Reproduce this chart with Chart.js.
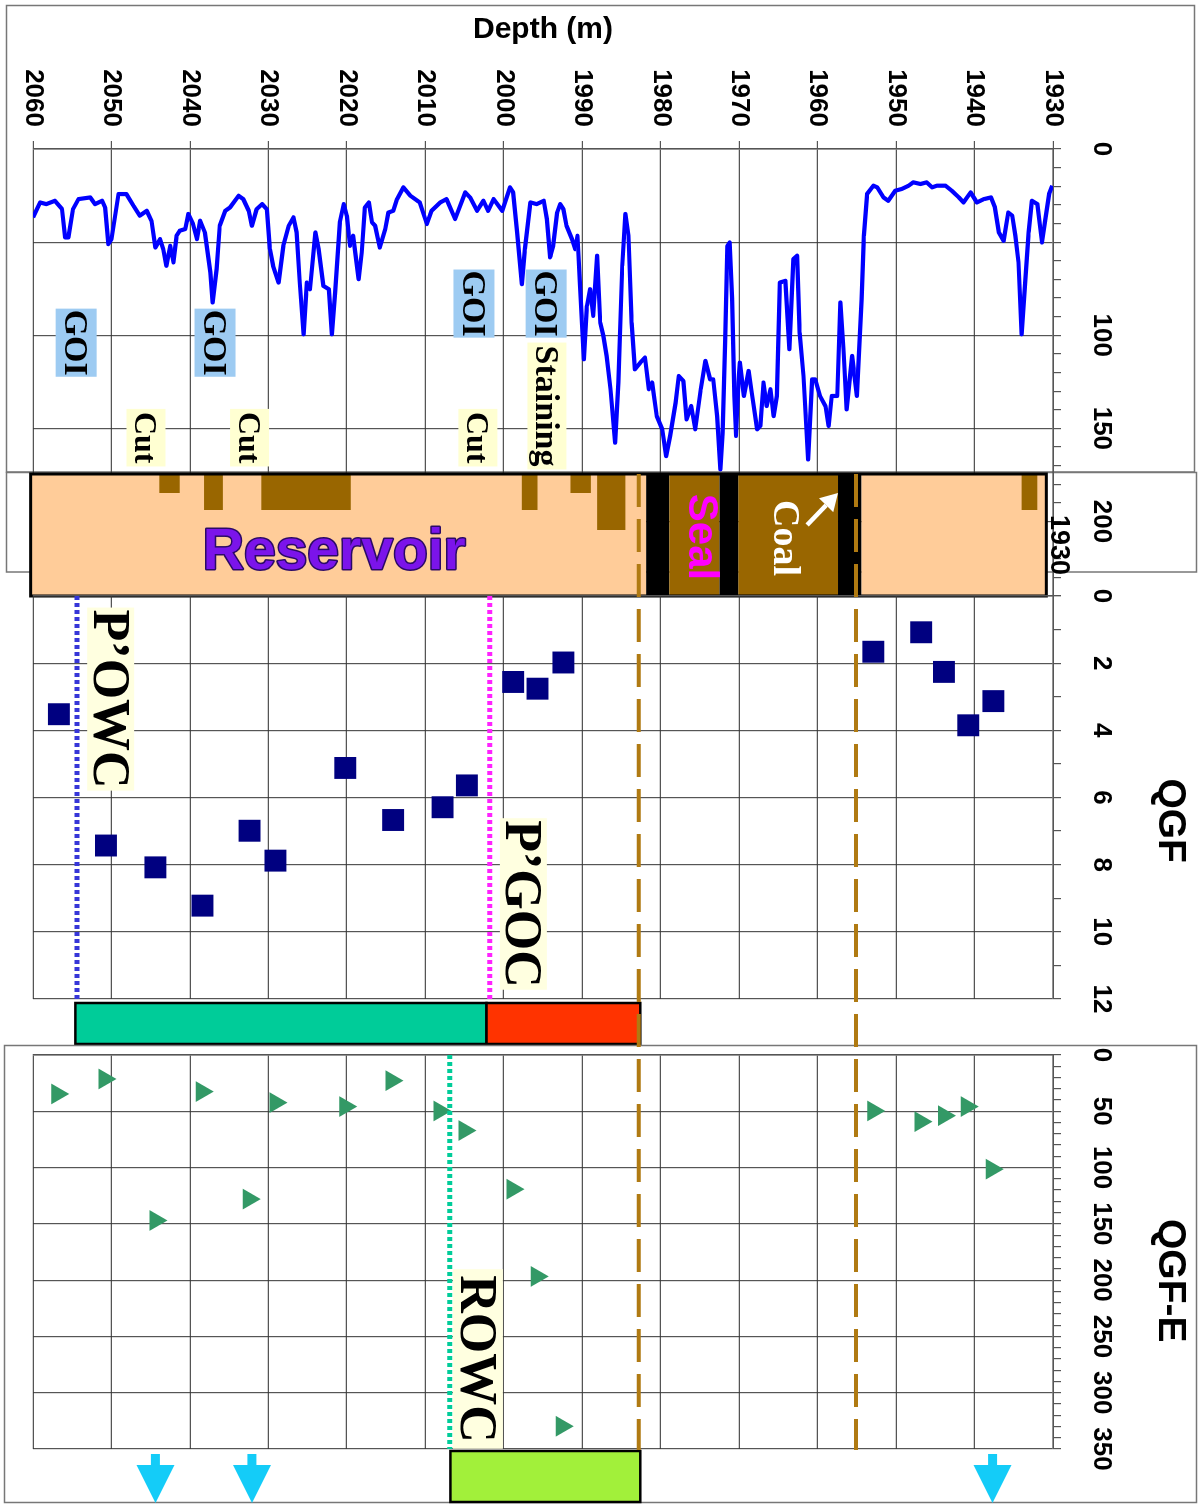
<!DOCTYPE html>
<html>
<head>
<meta charset="utf-8">
<script src="https://cdn.jsdelivr.net/npm/chart.js@4.4.1/dist/chart.umd.min.js"></script>
<style>
html,body{margin:0;padding:0;background:#fff;width:1200px;height:1505px;overflow:hidden;}
#wrap{position:absolute;left:0;top:0;width:1505px;height:1200px;transform-origin:0 0;transform:translate(1200px,0) rotate(90deg);background:#fff;}
#wrap canvas{position:absolute;left:0;top:0;}
</style>
</head>
<body>
<div id="wrap">
<canvas id="c1" width="1505" height="1200"></canvas>
<canvas id="c2" width="1505" height="1200"></canvas>
<canvas id="c3" width="1505" height="1200"></canvas>
</div>
<script>
// ================= DATA =================
const depthMin = 1930, depthMax = 2060;

const grDepth = [2060.0,2059.1,2058.3,2057.2,2056.3,2055.9,2055.5,2054.9,2054.2,2052.7,2052.1,2051.2,2050.8,2050.4,2050.0,2049.1,2048.1,2047.2,2046.4,2045.5,2044.9,2044.4,2043.8,2043.4,2043.0,2042.5,2042.1,2041.7,2041.3,2040.6,2040.2,2039.6,2039.1,2038.7,2038.1,2037.4,2037.1,2036.6,2036.2,2035.5,2034.9,2033.8,2033.2,2032.5,2032.1,2031.5,2030.8,2030.2,2029.8,2029.4,2028.7,2028.1,2027.4,2026.8,2026.4,2026.0,2025.5,2025.1,2024.7,2024.0,2023.6,2023.0,2022.3,2021.9,2021.5,2020.9,2020.4,2020.0,2019.6,2019.2,2018.5,2018.1,2017.7,2017.2,2016.8,2016.4,2015.8,2015.1,2014.7,2014.1,2013.6,2012.8,2011.9,2010.7,2009.8,2009.2,2008.1,2007.3,2006.2,2004.9,2004.3,2003.4,2002.6,2002.0,2001.3,2000.2,1999.2,1998.8,1998.3,1997.7,1997.3,1996.6,1995.8,1994.9,1994.5,1994.1,1993.7,1993.2,1992.8,1992.4,1992.0,1991.3,1990.9,1990.6,1990.3,1989.8,1989.4,1989.0,1988.6,1988.1,1987.7,1987.3,1986.9,1986.4,1985.8,1985.4,1984.9,1984.5,1984.1,1983.7,1983.3,1982.6,1982.0,1981.5,1981.1,1980.5,1979.8,1979.3,1978.8,1978.1,1977.7,1977.1,1976.7,1976.1,1975.6,1974.9,1974.3,1973.7,1973.3,1972.8,1972.4,1972.1,1971.8,1971.5,1971.2,1970.9,1970.6,1970.4,1970.1,1969.9,1969.4,1968.8,1968.4,1967.7,1967.3,1966.9,1966.5,1966.0,1965.6,1965.2,1964.8,1964.1,1963.6,1963.1,1962.6,1962.3,1961.8,1961.2,1960.7,1960.3,1959.7,1959.0,1958.6,1958.2,1957.5,1957.1,1956.7,1956.3,1955.6,1955.0,1954.4,1954.1,1953.7,1952.9,1952.4,1951.6,1951.0,1950.1,1949.3,1948.4,1947.8,1946.9,1946.1,1945.4,1944.8,1943.7,1942.9,1942.0,1941.4,1940.5,1939.7,1938.8,1937.9,1937.4,1936.9,1936.3,1935.7,1935.2,1934.8,1934.4,1934.0,1933.5,1933.1,1932.7,1932.0,1931.4,1931.0,1930.5,1930.1];
const grValue = [36.7,28.7,29.6,27.8,32.3,47.5,47.5,32.3,26.9,26.0,29.6,27.8,31.4,51.1,48.4,24.2,24.2,30.5,35.8,33.2,38.5,52.9,48.4,53.8,62.7,52.0,60.9,46.6,43.9,43.0,34.9,40.3,48.4,38.5,44.8,66.3,82.4,64.5,41.2,33.2,31.4,25.1,26.9,33.2,41.2,32.3,29.6,32.3,53.8,62.7,71.7,52.0,41.2,36.7,44.8,71.7,99.5,71.7,75.3,44.8,53.8,73.5,75.3,99.5,77.1,39.4,29.6,35.8,52.0,46.6,69.9,55.6,31.4,28.7,39.4,41.2,52.9,43.0,34.1,33.2,26.9,20.6,25.1,28.7,40.3,33.2,28.7,26.9,37.6,23.3,26.0,33.2,27.8,33.2,26.9,33.2,20.6,23.3,44.8,72.6,53.8,28.7,29.6,27.8,37.6,58.2,52.0,34.1,29.6,32.3,41.2,48.4,53.8,46.6,71.7,112.9,84.2,75.3,89.6,57.3,93.2,100.4,111.1,129.0,157.7,125.4,62.7,34.9,46.6,93.2,118.3,114.7,112.0,129.0,125.4,143.4,150.5,164.9,154.1,136.2,121.9,124.6,145.2,138.0,150.5,129.0,113.8,123.7,123.7,143.4,172.0,152.3,103.9,52.0,50.2,80.6,132.6,154.1,125.4,114.7,132.6,119.2,130.8,150.5,148.7,125.4,138.0,129.0,143.4,132.6,71.7,70.8,107.5,59.1,57.3,98.6,121.9,166.7,123.7,123.7,132.6,138.0,148.7,132.6,132.6,82.4,107.5,139.8,111.1,132.6,80.6,46.6,24.2,19.7,20.6,26.0,27.8,22.4,21.5,19.7,17.9,18.8,17.9,20.6,19.7,19.7,22.4,26.0,28.7,23.3,28.7,26.9,26.0,31.4,44.8,49.3,34.1,35.8,46.6,60.9,99.5,68.1,44.8,27.8,29.6,50.2,38.5,24.2,19.7];

const qgfDepth = [2056.7,2050.7,2044.4,2038.4,2032.4,2029.1,2020.2,2014.1,2007.8,2004.7,1998.8,1995.7,1992.4,1952.9,1946.8,1943.9,1940.8,1937.6];
const qgfValue = [3.52,7.43,8.08,9.22,6.99,7.88,5.12,6.67,6.29,5.64,2.56,2.76,1.98,1.66,1.08,2.26,3.85,3.13];

const qgfeDepth = [2056.9,2050.9,2044.4,2038.5,2032.5,2029.1,2020.2,2014.3,2008.2,2005.0,1998.9,1995.8,1992.6,1952.9,1946.9,1943.9,1941.0,1937.8];
const qgfeValue = [34.6,21.3,147,32.5,128,42.3,45.8,22.8,49.7,67.1,119.2,196.7,329.8,49.7,59.2,53.9,45.8,101.4];

const grTickLabels = [0,100,150,200];
const qgfTickLabels = [0,2,4,6,8,10,12];
const qgfeTickLabels = [0,50,100,150,200,250,300,350];

// lithology column
const lithoFrom = [2060.3,1981.85,1978.9,1972.5,1970.1,1957.4,1954.4];
const lithoTo   = [1981.85,1978.9,1972.5,1970.1,1957.4,1954.4,1930.85];
const lithoKind = ['sand','shale','seal','shale','coal','shale','sand'];
// oil shows (cut) along the column top
const showFrom  = [2043.9,2038.2,2030.9,1997.7,1991.5,1988.1,1934.0];
const showTo    = [2041.3,2035.8,2019.5,1995.7,1988.9,1984.5,1932.0];
const showLevel = [1,2,2,2,1,3,2];

// notes in the GR track
const grNoteText  = ['GOI','GOI','GOI','GOI','Cut','Cut','Cut','Staining'];
const grNoteDepth = [2054.5,2036.8,2003.8,1994.6,2045.6,2032.4,2003.3,1994.5];
const grNoteGR    = [104,104,83,83,155,155,155,138];

// contacts
const contactName  = ['P\u2019OWC','P\u2019GOC'];
const contactDepth = [2054.4,2001.8];
const contactLabelDepth = [2050.1,1997.5];
const contactLabelQGF   = [3.07,9.17];
const rowcDepth = 2006.9, rowcLabelDepth = 2003.3, rowcLabelValue = 270;

// interpreted zones
const qgfZoneFrom = [2054.6,2002.2];
const qgfZoneTo   = [2002.2,1982.6];
const qgfeZoneFrom = [2006.8];
const qgfeZoneTo   = [1982.6];
const arrowDepth = [2044.4,2032.1,1937.7];
const boundaryDepth = [1982.8,1955.1];

// ================= STYLE / LAYOUT =================
const SANS = '"Liberation Sans", Arial, Helvetica, sans-serif';
const SERIF = '"Liberation Serif", "Times New Roman", Times, serif';
const GRID = 'rgba(55,55,55,0.85)';
const AX = '#555';
const TOP = 147, BOTTOM = 1167;            // depth extent (div px)
const GR_L = 149, GR_R = 596, Q_L = 596, Q_R = 999, E_L = 1055, E_R = 1449;
const LITHO_A = 474, LITHO_B = 596;
const W = 1505, H = 1200;
const tickFont = {family: SANS, size: 26, weight: 'bold'};

Chart.defaults.font.family = SANS;

function valueAxis(min, max, step, labels, gridEvery) {
  return {
    type: 'linear', position: 'top', min, max,
    ticks: {stepSize: step, autoSkip: false, maxRotation: 0, minRotation: 0, padding: 25, color: '#000', font: tickFont,
      callback: v => labels.includes(Math.round(v * 1000) / 1000) ? String(v) : ''},
    grid: {color: c => (c.tick && Math.abs(c.tick.value / gridEvery - Math.round(c.tick.value / gridEvery)) < 1e-6) ? GRID : 'rgba(0,0,0,0)',
      tickColor: AX, tickLength: 8, lineWidth: 1.2},
    border: {display: true, color: AX, width: 1.5},
    afterFit: s => { s.height = TOP; }
  };
}
function depthAxis(show) {
  const o = {
    type: 'linear', position: 'left', reverse: true, min: depthMin, max: depthMax,
    ticks: {stepSize: 10, autoSkip: false, display: show, padding: 14, color: '#000', font: tickFont, callback: v => String(v)},
    grid: {color: GRID, lineWidth: 1.2, drawTicks: show, tickLength: 8, tickColor: AX},
    border: {display: true, color: AX, width: 1.5},
    afterFit: s => { s.width = show ? GR_L : 0; }
  };
  if (show) o.title = {display: true, text: 'Depth (m)', color: '#000', font: {family: SANS, size: 30, weight: 'bold'}, padding: {top: 12, bottom: 0}};
  return o;
}
function baseOptions(padLeft, padRight, xAxis, showDepth) {
  return {
    responsive: false, devicePixelRatio: 1, animation: false, events: [],
    layout: {padding: {left: padLeft, right: padRight, top: 0, bottom: H - BOTTOM}},
    plugins: {legend: {display: false}, tooltip: {enabled: false}},
    scales: {x: xAxis, y: depthAxis(showDepth)}
  };
}

function noteBox(ctx, text, cx, cy, font, fs, bg, h, pad) {
  ctx.font = 'bold ' + fs + 'px ' + font;
  const w = ctx.measureText(text).width + pad * 2;
  ctx.fillStyle = bg;
  ctx.fillRect(cx - w / 2, cy - h / 2, w, h);
  ctx.fillStyle = '#000';
  ctx.textAlign = 'center';
  ctx.textBaseline = 'alphabetic';
  ctx.fillText(text, cx, cy + fs * 0.33);
}
function titleText(ctx, text, cx, cy) {
  ctx.font = 'bold 39px ' + SANS;
  ctx.fillStyle = '#000'; ctx.textAlign = 'center'; ctx.textBaseline = 'middle';
  ctx.fillText(text, cx, cy);
}
function dotted(ctx, x0, x1, y, color, dash, w) {
  ctx.save(); ctx.strokeStyle = color; ctx.lineWidth = w; ctx.setLineDash(dash);
  ctx.beginPath(); ctx.moveTo(x0, y); ctx.lineTo(x1, y); ctx.stroke(); ctx.restore();
}

// ================= CHART 1 : GR + lithology =================
const lithoColor = {sand: '#FFCC99', shale: '#000000', seal: '#996600', coal: '#996600'};
const showLen = {1: 19, 2: 36, 3: 56};

const grPlugin = {
  id: 'grDeco',
  beforeDraw(chart) {
    const ctx = chart.ctx;
    ctx.save(); ctx.strokeStyle = '#777'; ctx.lineWidth = 1.5;
    ctx.strokeRect(5.5, 5.5, 466.5, 1188);
    ctx.strokeRect(472.5, 3.5, 99.5, 1190);
    ctx.restore();
  },
  afterDatasetsDraw(chart) {
    const {ctx, scales: {x, y}} = chart;
    ctx.save();
    // notes
    for (let i = 0; i < grNoteText.length; i++) {
      const t = grNoteText[i];
      const isGOI = t === 'GOI';
      noteBox(ctx, t, x.getPixelForValue(grNoteGR[i]), y.getPixelForValue(grNoteDepth[i]), SERIF,
        t === 'Cut' ? 32 : 34, isGOI ? '#9DCBF2' : '#FFFFD2', isGOI ? 41 : 39, isGOI ? 1 : 3);
    }
    // lithology column
    for (let i = 0; i < lithoKind.length; i++) {
      const a = y.getPixelForValue(lithoFrom[i]), b = y.getPixelForValue(lithoTo[i]);
      ctx.fillStyle = lithoColor[lithoKind[i]];
      ctx.fillRect(LITHO_A, Math.min(a, b), LITHO_B - LITHO_A, Math.abs(b - a));
    }
    ctx.fillStyle = '#996600';
    for (let i = 0; i < showFrom.length; i++) {
      const a = y.getPixelForValue(showFrom[i]), b = y.getPixelForValue(showTo[i]);
      ctx.fillRect(LITHO_A, Math.min(a, b), showLen[showLevel[i]], Math.abs(b - a));
    }
    const ta = y.getPixelForValue(lithoTo[lithoTo.length - 1]), tb = y.getPixelForValue(lithoFrom[0]);
    ctx.strokeStyle = '#000'; ctx.lineWidth = 3;
    ctx.strokeRect(LITHO_A, ta, LITHO_B - LITHO_A, tb - ta);

    // Reservoir label (horizontal on the page)
    ctx.save();
    ctx.translate(548, y.getPixelForValue(2021.6));
    ctx.rotate(-Math.PI / 2);
    ctx.font = 'bold 57px ' + SANS;
    ctx.textAlign = 'center'; ctx.textBaseline = 'alphabetic';
    ctx.lineWidth = 3; ctx.strokeStyle = '#2B0A66'; ctx.lineJoin = 'round';
    ctx.strokeText('Reservoir', 0, 21);
    ctx.fillStyle = '#7B14EA';
    ctx.fillText('Reservoir', 0, 21);
    ctx.restore();

    // Seal / Coal
    ctx.font = 'bold 42px ' + SANS;
    ctx.fillStyle = '#FF00FF'; ctx.textAlign = 'center'; ctx.textBaseline = 'alphabetic';
    ctx.fillText('Seal', 537, y.getPixelForValue(1974.5) + 15);
    ctx.font = 'bold 38px ' + SERIF;
    ctx.fillStyle = '#FFFFFF';
    ctx.fillText('Coal', 538, y.getPixelForValue(1963.9) + 13);
    // white arrow
    const x0 = 525, y0 = y.getPixelForValue(1961.35), x1 = 493, y1 = y.getPixelForValue(1957.4);
    const ang = Math.atan2(y1 - y0, x1 - x0), hd = 17;
    const hx = x1 - hd * Math.cos(ang), hy = y1 - hd * Math.sin(ang);
    ctx.strokeStyle = '#fff'; ctx.fillStyle = '#fff'; ctx.lineWidth = 4.5;
    ctx.beginPath(); ctx.moveTo(x0, y0); ctx.lineTo(hx, hy); ctx.stroke();
    ctx.beginPath(); ctx.moveTo(x1, y1);
    ctx.lineTo(hx + 10 * Math.sin(ang), hy - 10 * Math.cos(ang));
    ctx.lineTo(hx - 10 * Math.sin(ang), hy + 10 * Math.cos(ang));
    ctx.closePath(); ctx.fill();
    // stray depth label of the lithology strip
    ctx.font = 'bold 27px ' + SANS; ctx.fillStyle = '#000'; ctx.textBaseline = 'middle';
    ctx.fillText('1930', 545, y.getPixelForValue(1929.3));
    ctx.restore();
  }
};

new Chart(document.getElementById('c1'), {
  type: 'scatter',
  data: {datasets: [{
    data: grDepth.map((d, i) => ({x: grValue[i], y: d})),
    showLine: true, borderColor: '#0000FF', borderWidth: 4.2, pointRadius: 0, tension: 0, fill: false,
    borderJoinStyle: 'round'
  }]},
  options: baseOptions(0, W - GR_R, valueAxis(0, 240, 10, grTickLabels, 50), true),
  plugins: [grPlugin]
});

// ================= CHART 2 : QGF =================
const qgfPlugin = {
  id: 'qgfDeco',
  afterDatasetsDraw(chart) {
    const {ctx, scales: {x, y}} = chart;
    ctx.save();
    const colors = ['#3636D8', '#FF22FF'];
    for (let i = 0; i < contactName.length; i++) {
      dotted(ctx, x.getPixelForValue(0), x.getPixelForValue(12), y.getPixelForValue(contactDepth[i]), colors[i], [4, 3], 5);
    }
    for (let i = 0; i < contactName.length; i++) {
      noteBox(ctx, contactName[i], x.getPixelForValue(contactLabelQGF[i]), y.getPixelForValue(contactLabelDepth[i]), SERIF, 52, '#FFFFE0', 47, 2);
    }
    // zone bar below the track
    const zc = ['#00CC99', '#FF3300'];
    for (let i = 0; i < qgfZoneFrom.length; i++) {
      const a = y.getPixelForValue(qgfZoneFrom[i]), b = y.getPixelForValue(qgfZoneTo[i]);
      ctx.fillStyle = zc[i];
      ctx.fillRect(1003, Math.min(a, b), 41, Math.abs(b - a));
      ctx.strokeStyle = '#000'; ctx.lineWidth = 2.5;
      ctx.strokeRect(1003, Math.min(a, b), 41, Math.abs(b - a));
    }
    titleText(ctx, 'QGF', x.getPixelForValue(6.69), 30);
    ctx.restore();
  }
};

new Chart(document.getElementById('c2'), {
  type: 'scatter',
  data: {datasets: [{
    data: qgfDepth.map((d, i) => ({x: qgfValue[i], y: d})),
    pointStyle: 'rect', pointRadius: 15.5, backgroundColor: '#000080', borderColor: '#000080', borderWidth: 0
  }]},
  options: baseOptions(Q_L, W - Q_R, valueAxis(0, 12, 1, qgfTickLabels, 2), false),
  plugins: [qgfPlugin]
});

// ================= CHART 3 : QGF-E + overlays =================
const qgfePlugin = {
  id: 'qgfeDeco',
  beforeDraw(chart) {
    const ctx = chart.ctx;
    ctx.save(); ctx.strokeStyle = '#777'; ctx.lineWidth = 1.5;
    ctx.strokeRect(1045.5, 3.5, 457, 1192);
    ctx.restore();
  },
  afterDatasetsDraw(chart) {
    const {ctx, scales: {x, y}} = chart;
    ctx.save();
    dotted(ctx, x.getPixelForValue(0), x.getPixelForValue(350), y.getPixelForValue(rowcDepth), '#00CC99', [4, 3], 5);
    noteBox(ctx, 'ROWC', x.getPixelForValue(rowcLabelValue), y.getPixelForValue(rowcLabelDepth), SERIF, 52, '#FFFFE0', 50, 6);
    // zone bar below the track
    for (let i = 0; i < qgfeZoneFrom.length; i++) {
      const a = y.getPixelForValue(qgfeZoneFrom[i]), b = y.getPixelForValue(qgfeZoneTo[i]);
      ctx.fillStyle = '#A2F03A';
      ctx.fillRect(1451, Math.min(a, b), 51, Math.abs(b - a));
      ctx.strokeStyle = '#000'; ctx.lineWidth = 2.5;
      ctx.strokeRect(1451, Math.min(a, b), 51, Math.abs(b - a));
    }
    // cyan arrows
    ctx.fillStyle = '#14CCF8';
    for (const d of arrowDepth) {
      const c = y.getPixelForValue(d);
      ctx.fillRect(1454, c - 4.5, 12, 9);
      ctx.beginPath(); ctx.moveTo(1465, c - 19); ctx.lineTo(1465, c + 19); ctx.lineTo(1503, c); ctx.closePath(); ctx.fill();
    }
    titleText(ctx, 'QGF-E', x.getPixelForValue(200.5), 30);
    // brown dashed boundaries across the tracks
    ctx.strokeStyle = '#B07A12'; ctx.lineWidth = 4; ctx.setLineDash([33, 12]);
    for (const d of boundaryDepth) {
      const c = y.getPixelForValue(d);
      ctx.beginPath(); ctx.moveTo(LITHO_A, c); ctx.lineTo(1450, c); ctx.stroke();
    }
    ctx.restore();
  }
};

new Chart(document.getElementById('c3'), {
  type: 'scatter',
  data: {datasets: [{
    data: qgfeDepth.map((d, i) => ({x: qgfeValue[i], y: d})),
    pointStyle: 'triangle', pointRadius: 12, backgroundColor: '#339966', borderColor: '#339966', borderWidth: 0
  }]},
  options: baseOptions(E_L, W - E_R, valueAxis(0, 350, 10, qgfeTickLabels, 50), false),
  plugins: [qgfePlugin]
});
</script>
</body>
</html>
